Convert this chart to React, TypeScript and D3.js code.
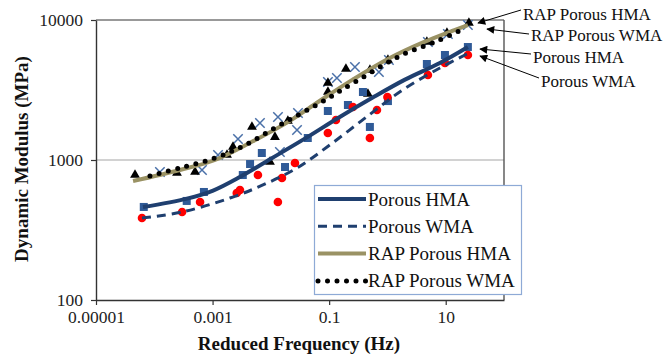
import * as d3 from 'd3'
import { useEffect, useRef } from 'react';

// measured points (reduced frequency Hz, dynamic modulus MPa)
const porousHmaFreq = [6.6e-5, 3.6e-4, 7.1e-4, 3.3e-3, 4.4e-3, 7.0e-3, 0.0175, 0.043, 0.095, 0.21, 0.38, 0.5, 1.02, 4.75, 9.7, 24];
const porousHmaE = [462, 510, 591, 781, 936, 1122, 891, 1436, 2239, 2471, 3060, 1722, 2636, 4850, 5623, 6412];

const porousWmaFreq = [6.15e-5, 3.0e-4, 6.1e-4, 2.6e-3, 2.95e-3, 6.0e-3, 0.0155, 0.0132, 0.0259, 0.095, 0.131, 0.256, 0.661, 0.5, 1.0, 4.95, 9.7, 24];
const porousWmaE = [385, 425, 501, 581, 611, 781, 743, 501, 952, 1560, 1931, 2393, 2276, 1436, 2818, 4045, 4932, 5623];

const rapHmaFreq = [4.67e-5, 2.45e-4, 5.0e-4, 1.77e-3, 2.24e-3, 4.74e-3, 9.66e-3, 0.01175, 0.0196, 0.0953, 0.0953, 0.194, 0.463, 0.501, 1.02, 4.75, 10.5, 25];
const rapHmaE = [781, 808, 821, 1086, 1239, 1722, 968, 1459, 1900, 3060, 3548, 4467, 2961, 4394, 5180, 6966, 8073, 9520];

const rapWmaFreq = [1.25e-4, 6.58e-4, 1.24e-3, 2.73e-3, 6.5e-3, 0.01324, 0.0143, 0.0292, 0.0281, 0.0953, 0.136, 0.277, 0.714, 1.06, 4.95, 10.9, 24];
const rapWmaE = [821, 849, 1086, 1413, 1837, 2029, 1140, 2168, 1638, 3606, 3853, 4616, 4254, 5180, 6966, 7943, 9210];

// fitted master curves
const hmaCurveFreq = [6.4e-5, 3.64e-4, 1.02e-3, 3.0e-3, 0.01, 0.0415, 0.138, 0.55, 2.0, 7.94, 24];
const hmaCurveE = [461, 530, 605, 760, 1020, 1450, 1980, 2780, 3750, 4932, 6412];

const wmaCurveFreq = [6.15e-5, 2.99e-4, 1.99e-3, 7.31e-3, 0.0281, 0.116, 0.501, 1.85, 7.94, 23.1];
const wmaCurveE = [385, 425, 535, 663, 877, 1330, 2120, 3180, 4541, 5715];

const rapHmaCurveFreq = [4.32e-5, 2.75e-4, 1.1e-3, 4.9e-3, 0.0189, 0.0695, 0.253, 1.0, 4.0, 24];
const rapHmaCurveE = [708, 849, 1000, 1360, 1850, 2650, 3750, 5250, 6900, 9210];

const rapWmaCurveFreq = [8.43e-5, 2.75e-4, 1.1e-3, 3.63e-3, 0.0143, 0.0695, 0.277, 1.77, 7.94, 21.4];
const rapWmaCurveE = [769, 877, 1033, 1280, 1778, 2553, 3606, 5623, 7197, 8770];

const xTicks = [0.00001, 0.001, 0.1, 10];
const xTickLabels = ["0.00001", "0.001", "0.1", "10"];
const yTicks = [100, 1000, 10000];

const legendNames = ["Porous HMA", "Porous WMA", "RAP Porous HMA", "RAP Porous WMA"];
const calloutNames = ["RAP Porous HMA", "RAP Porous WMA", "Porous HMA", "Porous WMA"];

const FONT = "'Liberation Serif', 'Times New Roman', serif";
const NAVY = "#1f3f6f";
const OLIVE = "#9a9264";

function drawChart(svgEl: SVGSVGElement) {
    const svg = d3.select(svgEl);
    svg.selectAll("*").remove();

    const x = d3.scaleLog().domain([1e-5, 100]).range([96, 504]);
    const y = d3.scaleLog().domain([100, 10000]).range([300, 20]);

    const defs = svg.append("defs");
    defs.append("marker")
        .attr("id", "arrow").attr("viewBox", "0 0 10 10")
        .attr("refX", 9).attr("refY", 5)
        .attr("markerWidth", 10).attr("markerHeight", 8)
        .attr("markerUnits", "userSpaceOnUse")
        .attr("orient", "auto")
        .append("path").attr("d", "M0,0 L10,5 L0,10 z").attr("fill", "#000");

    // grid line at 1000
    svg.append("line")
        .attr("x1", x(1e-5)).attr("x2", x(100))
        .attr("y1", y(1000)).attr("y2", y(1000))
        .attr("stroke", "#a6a6a6").attr("stroke-width", 1.2);

    // plot frame
    svg.append("line").attr("x1", x(1e-5)).attr("x2", x(100)).attr("y1", y(10000)).attr("y2", y(10000))
        .attr("stroke", "#777").attr("stroke-width", 1.6);
    svg.append("line").attr("x1", x(100)).attr("x2", x(100)).attr("y1", y(10000)).attr("y2", y(100))
        .attr("stroke", "#555").attr("stroke-width", 1.4);

    // axes
    const gx = svg.append("g").attr("transform", `translate(0,${y(100)})`)
        .call(d3.axisBottom(x).tickValues(xTicks).tickFormat((d, i) => xTickLabels[i]).tickSize(5).tickSizeOuter(0).tickPadding(6));
    gx.select(".domain").attr("stroke", "#333").attr("stroke-width", 1.4);
    gx.selectAll(".tick line").attr("stroke", "#333").attr("stroke-width", 1.2);
    gx.selectAll("text").attr("font-family", FONT).attr("font-size", 17.5).attr("fill", "#222");

    const gy = svg.append("g").attr("transform", `translate(${x(1e-5)},0)`)
        .call(d3.axisLeft(y).tickValues(yTicks).tickFormat(d3.format("d")).tickSize(5).tickSizeOuter(0).tickPadding(8));
    gy.select(".domain").attr("stroke", "#333").attr("stroke-width", 1.4);
    gy.selectAll(".tick line").attr("stroke", "#333").attr("stroke-width", 1.2);
    gy.selectAll("text").attr("font-family", FONT).attr("font-size", 17.5).attr("fill", "#222");

    // axis titles
    svg.append("text").text("Reduced Frequency (Hz)")
        .attr("x", 299).attr("y", 350).attr("text-anchor", "middle")
        .attr("font-family", FONT).attr("font-size", 19).attr("font-weight", "bold").attr("fill", "#111");
    svg.append("text").text("Dynamic Modulus (MPa)")
        .attr("transform", "translate(28,159) rotate(-90)").attr("text-anchor", "middle")
        .attr("font-family", FONT).attr("font-size", 19).attr("font-weight", "bold").attr("fill", "#111");

    const line = d3.line<[number, number]>()
        .x(d => x(d[0])).y(d => y(d[1]))
        .curve(d3.curveCatmullRom.alpha(0.5));
    const pairs = (f: number[], e: number[]) => f.map((v, i) => [v, e[i]] as [number, number]);

    // markers
    svg.append("g").selectAll("path").data(pairs(rapWmaFreq, rapWmaE)).join("path")
        .attr("d", d3.symbol(d3.symbolX, 60)() as string)
        .attr("transform", d => `translate(${x(d[0])},${y(d[1])})`)
        .attr("fill", "none").attr("stroke", "#4a70a8").attr("stroke-width", 1.5);
    svg.append("g").selectAll("path").data(pairs(rapHmaFreq, rapHmaE)).join("path")
        .attr("d", d3.symbol(d3.symbolTriangle, 42)() as string)
        .attr("transform", d => `translate(${x(d[0])},${y(d[1])})`)
        .attr("fill", "#000");
    svg.append("g").selectAll("rect").data(pairs(porousHmaFreq, porousHmaE)).join("rect")
        .attr("x", d => x(d[0]) - 4).attr("y", d => y(d[1]) - 4)
        .attr("width", 8).attr("height", 8)
        .attr("fill", "#2f5a97");
    svg.append("g").selectAll("circle").data(pairs(porousWmaFreq, porousWmaE)).join("circle")
        .attr("cx", d => x(d[0])).attr("cy", d => y(d[1])).attr("r", 4.3)
        .attr("fill", "#ff0000");

    // master curves
    svg.append("path").datum(pairs(rapHmaCurveFreq, rapHmaCurveE)).attr("d", line)
        .attr("fill", "none").attr("stroke", OLIVE).attr("stroke-width", 4);
    svg.append("path").datum(pairs(rapWmaCurveFreq, rapWmaCurveE)).attr("d", line)
        .attr("fill", "none").attr("stroke", "#000").attr("stroke-width", 5)
        .attr("stroke-linecap", "round").attr("stroke-dasharray", "0 9.5");
    svg.append("path").datum(pairs(hmaCurveFreq, hmaCurveE)).attr("d", line)
        .attr("fill", "none").attr("stroke", NAVY).attr("stroke-width", 4);
    svg.append("path").datum(pairs(wmaCurveFreq, wmaCurveE)).attr("d", line)
        .attr("fill", "none").attr("stroke", NAVY).attr("stroke-width", 3)
        .attr("stroke-dasharray", "9 6");

    // legend
    const lg = svg.append("g");
    lg.append("rect").attr("x", 314.5).attr("y", 185.5).attr("width", 207).attr("height", 109)
        .attr("fill", "#fff").attr("stroke", "#8eaad6").attr("stroke-width", 1.2);
    const styles = [
        { stroke: NAVY, w: 4, dash: null as string | null, cap: "butt" },
        { stroke: NAVY, w: 3, dash: "9 6", cap: "butt" },
        { stroke: OLIVE, w: 4, dash: null, cap: "butt" },
        { stroke: "#000", w: 5, dash: "0 9.5", cap: "round" },
    ];
    legendNames.forEach((name, i) => {
        const cy = 199 + i * 27.3;
        lg.append("line").attr("x1", 318).attr("x2", 366).attr("y1", cy).attr("y2", cy)
            .attr("stroke", styles[i].stroke).attr("stroke-width", styles[i].w)
            .attr("stroke-dasharray", styles[i].dash).attr("stroke-linecap", styles[i].cap);
        lg.append("text").text(name).attr("x", 368).attr("y", cy + 6.5)
            .attr("font-family", FONT).attr("font-size", 19).attr("fill", "#111");
    });

    // callouts
    const callTextX = [523, 531, 533, 541];
    const callTextY = [20, 41, 63, 87];
    const tails = [[521, 10], [529, 34], [531, 54], [539, 78]];
    const heads = [[478, 23], [487, 29], [480, 49], [480, 56]];
    calloutNames.forEach((name, i) => {
        svg.append("line")
            .attr("x1", tails[i][0]).attr("y1", tails[i][1])
            .attr("x2", heads[i][0]).attr("y2", heads[i][1])
            .attr("stroke", "#000").attr("stroke-width", 1)
            .attr("marker-end", "url(#arrow)");
        svg.append("text").text(name).attr("x", callTextX[i]).attr("y", callTextY[i])
            .attr("font-family", FONT).attr("font-size", 17).attr("fill", "#111");
    });
}

function App() {
    const ref = useRef<SVGSVGElement>(null);
    useEffect(() => {
        if (ref.current) drawChart(ref.current);
    });

    return (
        <svg ref={ref} width="668" height="360"
            style={{ position: 'absolute', left: 0, top: 0, background: '#fff' }}>
        </svg>
    );
}

export default App;
